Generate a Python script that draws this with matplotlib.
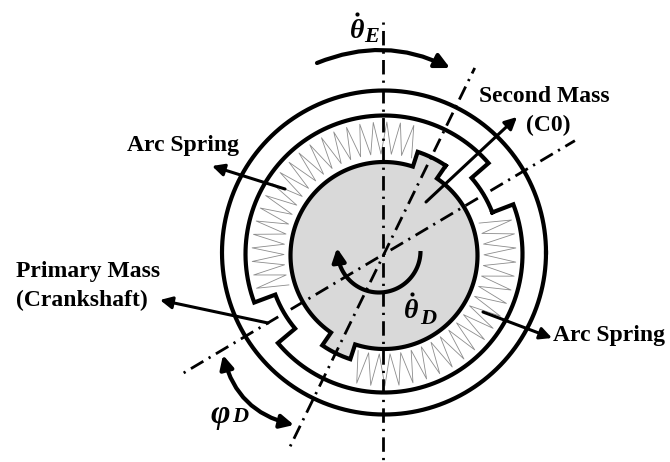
import numpy as np
import matplotlib
matplotlib.use("Agg")
import matplotlib.pyplot as plt
from matplotlib.patches import FancyArrowPatch

# pixel coordinates of the original drawing
W, H = 670, 462
CX = 384
CY_OUTER, CY_RING, CY_DISK = 252.5, 254, 255.5

R_OUTER = 162
R_RING = 138.5
R_NOTCH = 116
R_DISK = 93.5
R_TAB = 109

# angles in degrees, counter clockwise from the right
tab_angles = [(55.5, 72), (235.5, 252)]
notch_angles = [(21, 41), (200.5, 220)]
spring_spans = [(74, 198), (255, 378)]
spring_teeth = [21, 20]
spring_radii = (100, 132)

# center lines: angle, far end below center, far end above center (px along the line)
line_angles = [90, 64, 30.7]
line_starts = [-208, -214, -233]
line_ends = [232, 207, 222]

BLACK = "#000000"
GREY = "#d9d9d9"
SPRING = "#8c8c8c"

plt.rcParams["font.family"] = ["Liberation Serif", "DejaVu Serif"]

fig = plt.figure(figsize=(W / 100, H / 100), dpi=100)
ax = fig.add_axes([0, 0, 1, 1])
ax.set_xlim(0, W)
ax.set_ylim(H, 0)
ax.axis("off")


def polar(r, deg, cy=CY_RING, cx=CX):
    a = np.radians(deg)
    return cx + r * np.cos(a), cy - r * np.sin(a)


def stepped_outline(radius, step_radius, spans, cy):
    """closed outline, radius changes to step_radius inside each span"""
    xs, ys = [], []
    a0, a1 = spans[0], spans[1]
    for start, end, r in [(a0[0], a0[1], step_radius), (a0[1], a1[0], radius),
                          (a1[0], a1[1], step_radius), (a1[1], a0[0] + 360, radius)]:
        t = np.linspace(start, end, 80)
        x, y = polar(r, t, cy)
        xs.extend(x)
        ys.extend(y)
    xs.append(xs[0])
    ys.append(ys[0])
    return xs, ys


# springs go under everything
for (start, end), n in zip(spring_spans, spring_teeth):
    t = np.linspace(start, end, 2 * n + 1)
    r = np.where(np.arange(2 * n + 1) % 2 == 0, spring_radii[0], spring_radii[1])
    x, y = polar(r, t)
    ax.plot(x, y, color=SPRING, lw=0.6, zorder=1)

# disk with the two tabs
x, y = stepped_outline(R_DISK, R_TAB, tab_angles, CY_DISK)
ax.fill(x, y, color=GREY, zorder=2, lw=0)
ax.plot(x, y, color=BLACK, lw=3, zorder=3, solid_joinstyle="miter")

# ring with the two notches
x, y = stepped_outline(R_RING, R_NOTCH, notch_angles, CY_RING)
ax.plot(x, y, color=BLACK, lw=3, zorder=3, solid_joinstyle="miter")

# outer circle
x, y = polar(R_OUTER, np.linspace(0, 360, 361), CY_OUTER)
ax.plot(x, y, color=BLACK, lw=3, zorder=3)

# center lines, pattern starts with the dot at the first end
for ang, r0, r1 in zip(line_angles, line_starts, line_ends):
    x, y = polar(np.array([r0, r1]), ang)
    if ang == 90:
        x = x - 1
        x, y = x[::-1], y[::-1]
    ax.plot(x, y, color=BLACK, lw=2, zorder=4, linestyle=(0, (0.8, 2.25, 5.2, 2.2)),
            dash_capstyle="butt")


def arrow(p0, p1, style="-|>", rad=0.0, lw=2.2, scale=18):
    ax.add_patch(FancyArrowPatch(p0, p1, arrowstyle=style, mutation_scale=scale, lw=lw,
                                 color=BLACK, shrinkA=0, shrinkB=0, zorder=5,
                                 connectionstyle=f"arc3,rad={rad}"))


arrow((285, 189), (212, 166))
arrow((483, 312), (552, 338))
arrow((426, 202), (517, 117))
arrow((268, 323), (160, 300))
arrow((317, 63), (450, 68), rad=-0.225, lw=3, scale=22)
arrow((223, 355), (294, 425), style="<|-|>", rad=0.3, lw=3, scale=20)

# inner rotation arrow, half circle under the center
t = np.linspace(0, -165, 60)
x, y = polar(41.5, t, 251, 379)
ax.plot(x, y, color=BLACK, lw=3, zorder=5, solid_capstyle="butt")
arrow((x[-1], y[-1]), (337, 248), lw=3, scale=20)

bold = dict(fontweight="bold", fontsize=17, color=BLACK, zorder=6, va="center")
ax.text(127, 145, "Arc Spring", **bold)
ax.text(553, 336, "Arc Spring", **bold)
ax.text(544, 97, "Second Mass", ha="center", **bold)
ax.text(548, 125, "(C0)", ha="center", **bold)
ax.text(88, 272, "Primary Mass", ha="center", **bold)
ax.text(82, 300, "(Crankshaft)", ha="center", **bold)

sym = dict(fontweight="bold", fontstyle="italic", color=BLACK, zorder=6, ha="center", va="center")
ax.text(357, 31, "θ", fontsize=20, **sym)
ax.text(372, 37, "E", fontsize=16, **sym)
ax.text(411, 311, "θ", fontsize=20, **sym)
ax.text(428, 319, "D", fontsize=16, **sym)
ax.text(220, 414, "φ", fontsize=24, **sym)
ax.text(240, 417, "D", fontsize=16, **sym)
ax.plot([357, 412], [14, 294], "o", color=BLACK, ms=3, mew=0, zorder=6)

fig.savefig("out.png", dpi=100)
